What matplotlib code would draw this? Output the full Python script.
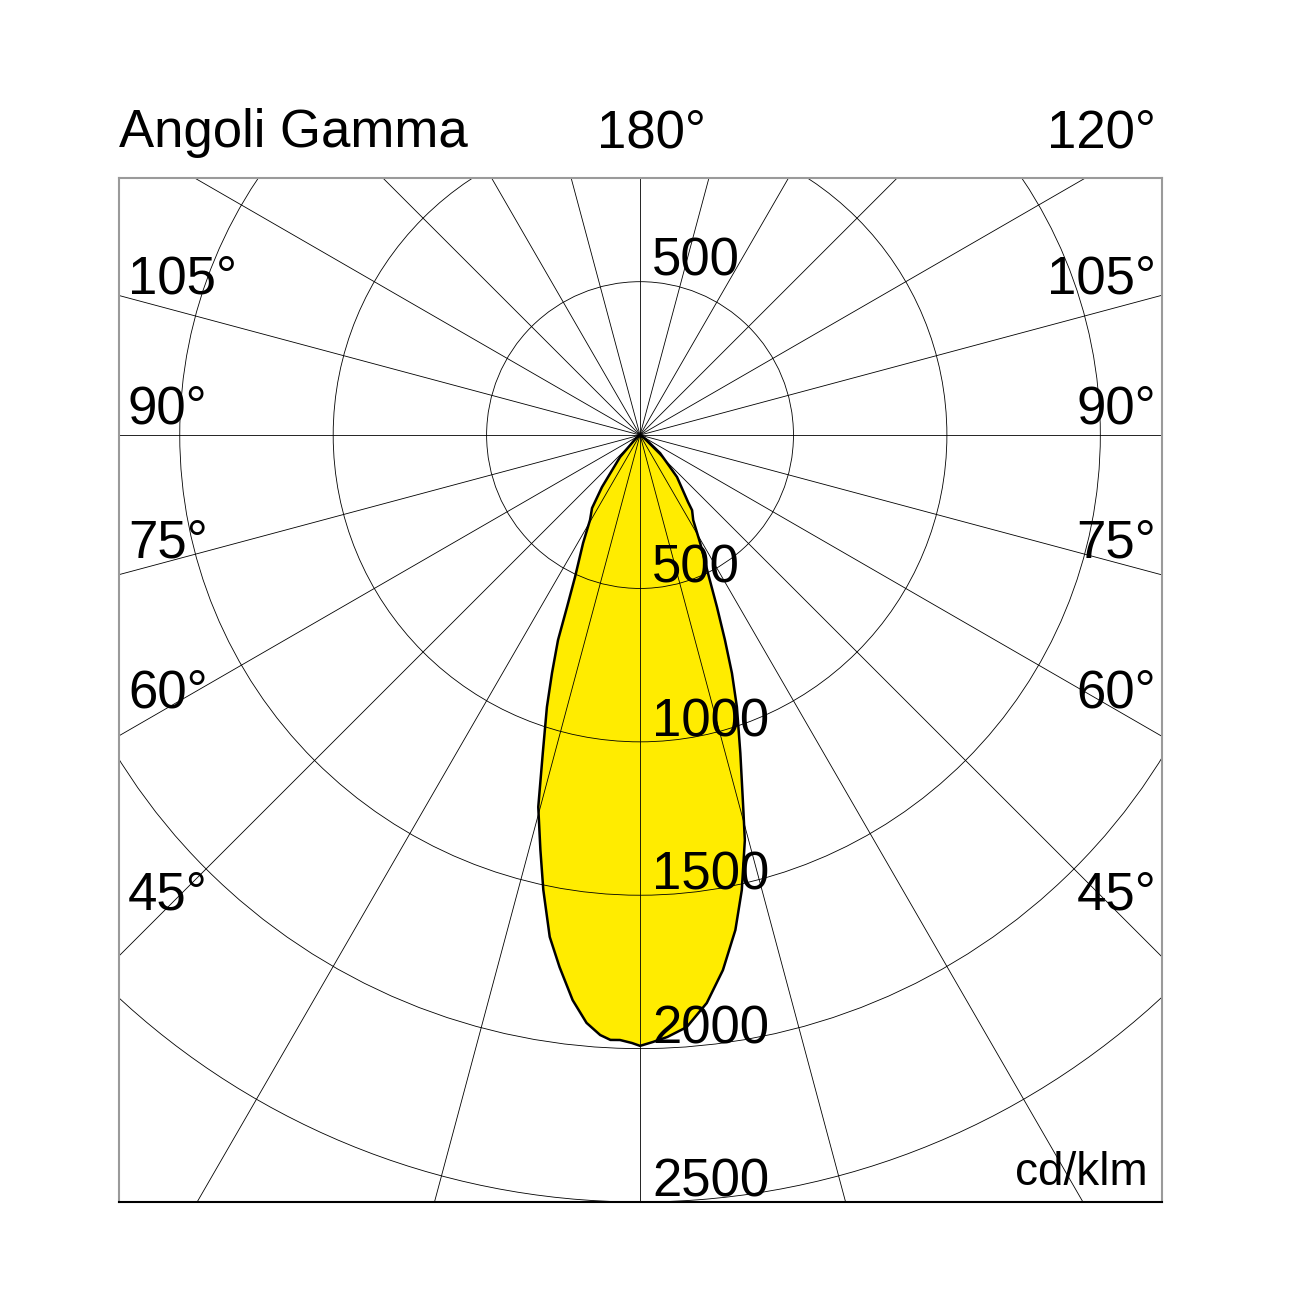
import numpy as np
import matplotlib
matplotlib.use('Agg')
import matplotlib.pyplot as plt
from matplotlib.patches import Circle, Polygon

plt.rcParams['font.family'] = ['Liberation Sans', 'DejaVu Sans']

# photometric curve, gamma from nadir (deg) -> cd/klm
gamma_left = [0, 0.75, 1.9, 2.8, 3.8, 5.2, 6.8, 8.6, 10.2, 12.0, 13.5, 15.3, 17.0,
              18.9, 20.3, 21.8, 23.0, 24.6, 27.8, 30.5, 33.3, 36.2, 42.3, 50, 60, 90]
cd_left = [1991, 1982, 1973, 1974, 1960, 1924, 1855, 1754, 1662, 1516, 1391, 1257, 1084,
           937, 827, 720, 609, 509, 398, 321, 285, 210, 97, 20, 5, 0]
gamma_right = [0, 0.3, 1.2, 2.6, 4.5, 6.7, 8.8, 10.9, 12.6, 14.5, 15.5, 17.5, 19.6,
               21.1, 22.5, 24.1, 26.2, 29.1, 32.0, 34.7, 35.6, 41.4, 48, 55, 90]
cd_right = [1991, 1988, 1979, 1964, 1936, 1864, 1765, 1643, 1520, 1364, 1258, 1087, 941,
            832, 723, 614, 501, 403, 327, 298, 269, 182, 88, 20, 0]

rings = [500, 1000, 1500, 2000, 2500]
spokes = np.arange(0, 360, 15)
left_labels = ['105°', '90°', '75°', '60°', '45°']
right_labels = ['105°', '90°', '75°', '60°', '45°']
label_rows = [293, 423, 557, 707, 910]  # baseline, px from top

W = H = 1302
fig = plt.figure(figsize=(W / 100, H / 100), dpi=100)
ax = fig.add_axes([119 / W, (H - 1202) / H, (1162 - 119) / W, (1202 - 178) / H])
ax.set_xlim(-1698, 1701)
ax.set_ylim(-2500, 838)
ax.set_xticks([])
ax.set_yticks([])
for s in ['top', 'left', 'right']:
    ax.spines[s].set_color('#9a9a9a')
    ax.spines[s].set_linewidth(1.5)
ax.spines['bottom'].set_color('black')
ax.spines['bottom'].set_linewidth(1.5)

# yellow curve
gl = np.radians(gamma_left)[::-1]
il = np.array(cd_left)[::-1]
gr = np.radians(gamma_right)
ir = np.array(cd_right)
xs = np.concatenate([-il * np.sin(gl), ir * np.sin(gr)])
ys = np.concatenate([-il * np.cos(gl), -ir * np.cos(gr)])
pts = np.column_stack([xs, ys])
ax.add_patch(Polygon(pts, closed=True, facecolor='#ffec00', edgecolor='none', zorder=1))
ax.add_patch(Polygon(pts, closed=True, facecolor='none', edgecolor='black', lw=1.8, zorder=3))

# grid
for r in rings:
    ax.add_patch(Circle((0, 0), r, fill=False, color='black', lw=0.6, zorder=2))
for a in spokes:
    t = np.radians(a)
    ax.plot([0, 4000 * np.sin(t)], [0, -4000 * np.cos(t)], color='black', lw=0.6, zorder=2)

# radial value labels
ax.text(40, 520, '500', fontsize=38, va='baseline', zorder=4)
for r in rings:
    ax.text(40, -r + 18, str(r), fontsize=38, va='baseline', zorder=4)

# angle labels
fs = 38
fig.text(119 / W, 1 - 147 / H, 'Angoli Gamma', fontsize=fs, va='baseline')
fig.text(597 / W, 1 - 147 / H, '180°', fontsize=fs, va='baseline')
fig.text(1156 / W, 1 - 147 / H, '120°', fontsize=fs, va='baseline', ha='right')
for lab, row in zip(left_labels, label_rows):
    fig.text(128 / W, 1 - row / H, lab, fontsize=fs, va='baseline')
for lab, row in zip(right_labels, label_rows):
    fig.text(1156 / W, 1 - row / H, lab, fontsize=fs, va='baseline', ha='right')
fig.text(1148 / W, 1 - 1185 / H, 'cd/klm', fontsize=33, va='baseline', ha='right')

fig.savefig('out.png', dpi=100, facecolor='white')
